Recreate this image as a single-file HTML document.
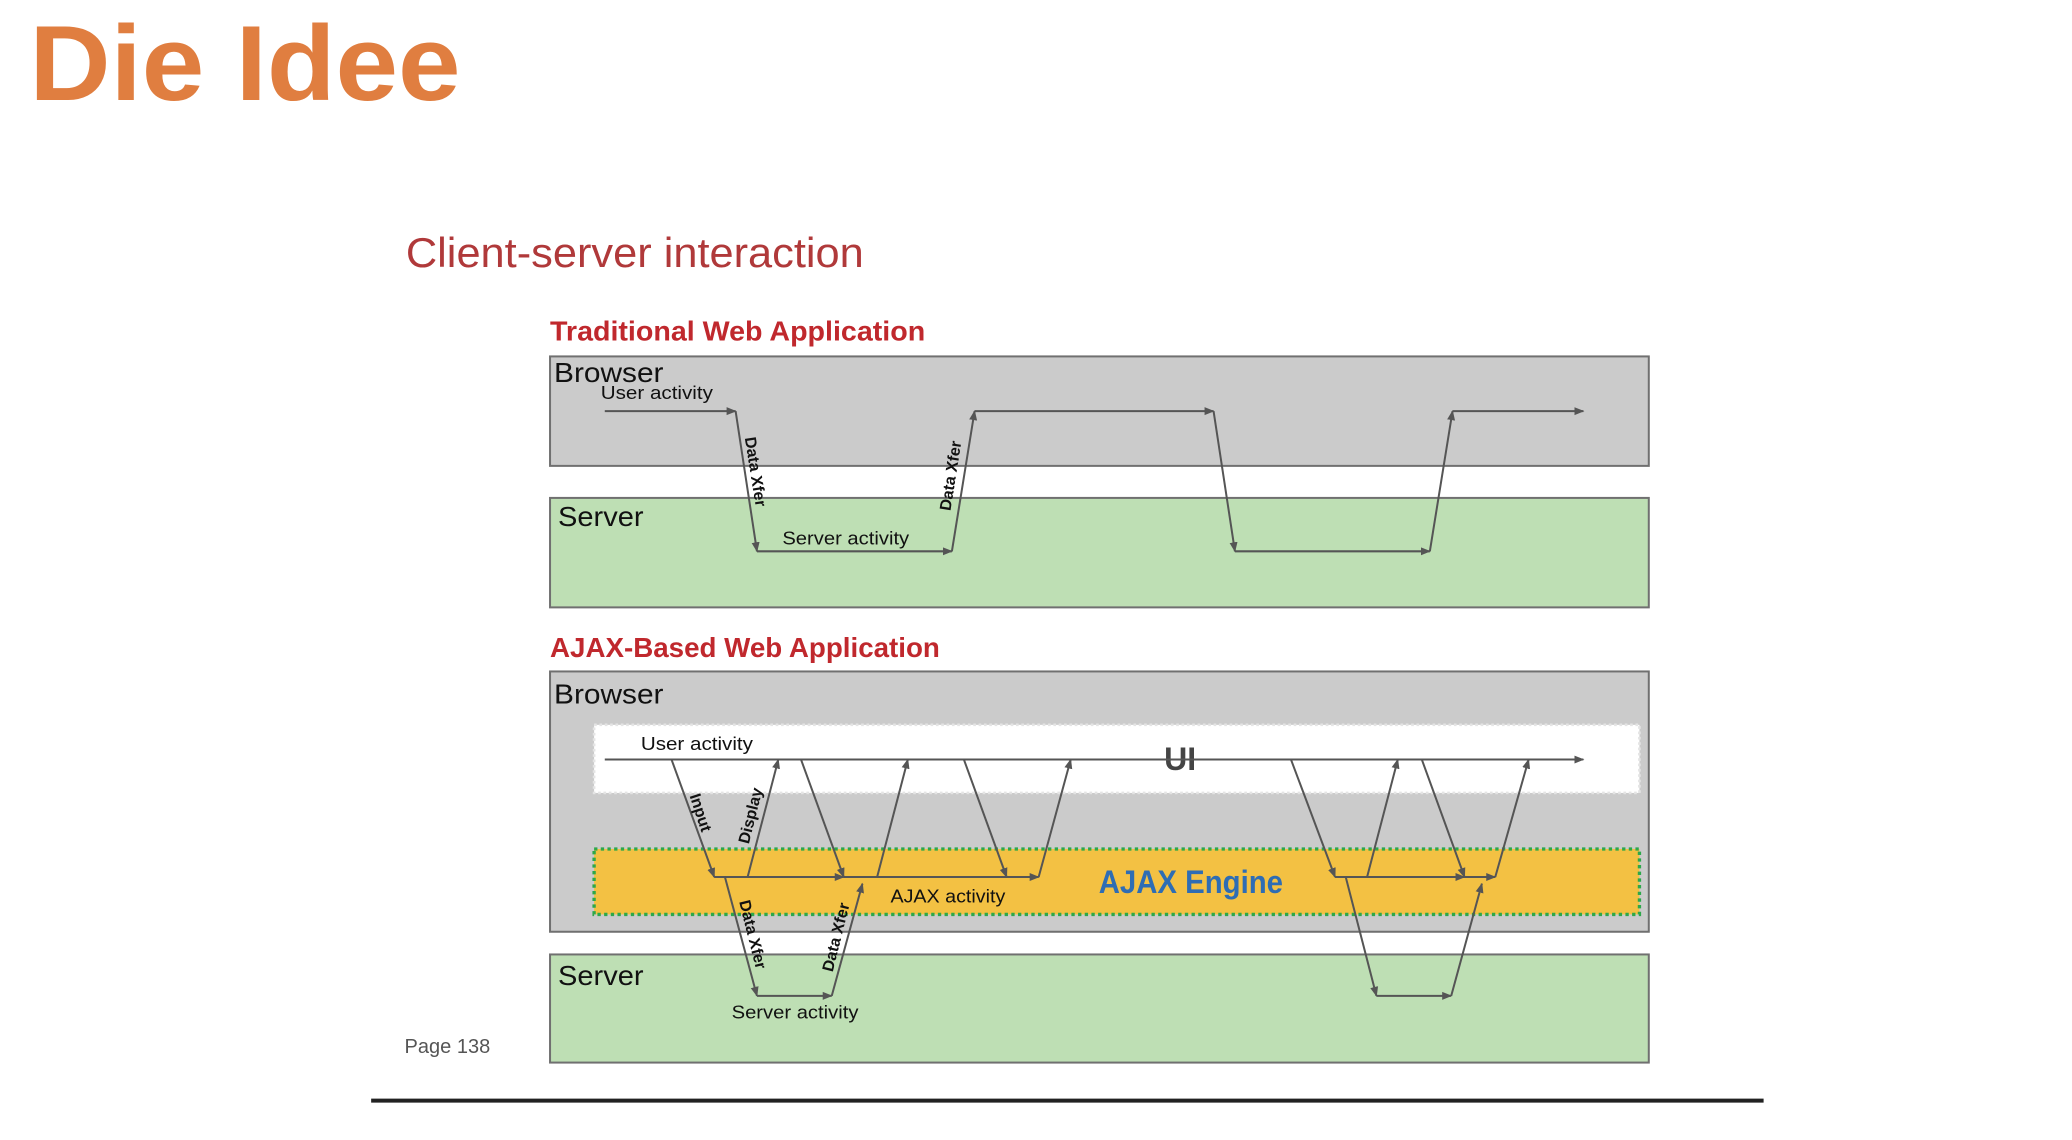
<!DOCTYPE html>
<html><head><meta charset="utf-8"><style>
html,body{margin:0;padding:0;background:#fff;width:2072px;height:1140px;overflow:hidden}
svg{display:block}
text{font-family:"Liberation Sans",sans-serif}
</style></head><body>
<svg width="2072" height="1140" viewBox="0 0 1552 854" preserveAspectRatio="none" xmlns="http://www.w3.org/2000/svg">
<defs>
<marker id="a" viewBox="0 0 10 10" refX="9" refY="5" markerWidth="5" markerHeight="5" orient="auto-start-reverse"><path d="M0,1 L10,5 L0,9 z" fill="#555"/></marker>
</defs>
<rect width="1552" height="854" fill="#fff"/>
<text x="22" y="75" font-size="80" font-weight="bold" fill="#E07E40" textLength="323" lengthAdjust="spacingAndGlyphs">Die Idee</text>
<text x="304" y="200" font-size="31" fill="#B0393A" textLength="343" lengthAdjust="spacingAndGlyphs">Client-server interaction</text>
<text x="412" y="255" font-size="21" font-weight="bold" fill="#C0282D" textLength="281" lengthAdjust="spacingAndGlyphs">Traditional Web Application</text>

<rect x="412" y="267" width="823" height="82" fill="#CBCBCB" stroke="#707070" stroke-width="1.5"/>
<rect x="412" y="373" width="823" height="82" fill="#BEDFB4" stroke="#707070" stroke-width="1.5"/>
<text x="415" y="286" font-size="21" fill="#111" textLength="82" lengthAdjust="spacingAndGlyphs">Browser</text>
<text x="450" y="299" font-size="14" fill="#111" textLength="84" lengthAdjust="spacingAndGlyphs">User activity</text>
<text x="418" y="394" font-size="21" fill="#111" textLength="64" lengthAdjust="spacingAndGlyphs">Server</text>
<text x="586" y="408" font-size="14" fill="#111" textLength="95" lengthAdjust="spacingAndGlyphs">Server activity</text>
<g stroke="#555" stroke-width="1.5" fill="none" marker-end="url(#a)">
<line x1="453" y1="308" x2="551" y2="308"/>
<line x1="551" y1="308" x2="567" y2="413"/>
<line x1="567" y1="413" x2="713" y2="413"/>
<line x1="713" y1="413" x2="730" y2="308"/>
<line x1="730" y1="308" x2="909" y2="308"/>
<line x1="909" y1="308" x2="925" y2="413"/>
<line x1="925" y1="413" x2="1071" y2="413"/>
<line x1="1071" y1="413" x2="1088" y2="308"/>
<line x1="1088" y1="308" x2="1186" y2="308"/>
</g>
<text transform="translate(562,354) rotate(81)" font-size="12" font-weight="bold" text-anchor="middle" fill="#111">Data Xfer</text>
<text transform="translate(716,357) rotate(-81)" font-size="12" font-weight="bold" text-anchor="middle" fill="#111">Data Xfer</text>

<text x="412" y="492" font-size="21" font-weight="bold" fill="#C0282D" textLength="292" lengthAdjust="spacingAndGlyphs">AJAX-Based Web Application</text>
<rect x="412" y="503" width="823" height="195" fill="#CBCBCB" stroke="#707070" stroke-width="1.5"/>
<rect x="412" y="715" width="823" height="81" fill="#BEDFB4" stroke="#707070" stroke-width="1.5"/>
<rect x="445" y="543" width="783" height="51" fill="#fff" stroke="#e4e4e4" stroke-width="2" stroke-dasharray="2,2"/>
<rect x="445" y="636" width="783" height="49" fill="#F3C143" stroke="#2DA84A" stroke-width="2.5" stroke-dasharray="2.5,2.5"/>
<text x="415" y="527" font-size="21" fill="#111" textLength="82" lengthAdjust="spacingAndGlyphs">Browser</text>
<text x="480" y="562" font-size="14" fill="#111" textLength="84" lengthAdjust="spacingAndGlyphs">User activity</text>
<text x="872" y="577" font-size="24" font-weight="bold" fill="#444">UI</text>
<text x="823" y="669" font-size="24" font-weight="bold" fill="#2E6DB4" textLength="138" lengthAdjust="spacingAndGlyphs">AJAX Engine</text>
<text x="667" y="676" font-size="14" fill="#111" textLength="86" lengthAdjust="spacingAndGlyphs">AJAX activity</text>
<text x="418" y="738" font-size="21" fill="#111" textLength="64" lengthAdjust="spacingAndGlyphs">Server</text>
<text x="548" y="763" font-size="14" fill="#111" textLength="95" lengthAdjust="spacingAndGlyphs">Server activity</text>
<g stroke="#555" stroke-width="1.5" fill="none" marker-end="url(#a)">
<line x1="453" y1="569" x2="1186" y2="569"/>
<line x1="503" y1="569" x2="535" y2="657"/>
<line x1="535" y1="657" x2="632" y2="657"/>
<line x1="632" y1="657" x2="778" y2="657"/>
<line x1="560" y1="657" x2="583" y2="569"/>
<line x1="600" y1="569" x2="632" y2="657"/>
<line x1="657" y1="657" x2="680" y2="569"/>
<line x1="722" y1="569" x2="754" y2="657"/>
<line x1="778" y1="657" x2="802" y2="569"/>
<line x1="967" y1="569" x2="1000" y2="657"/>
<line x1="1000" y1="657" x2="1097" y2="657"/>
<line x1="1097" y1="657" x2="1120" y2="657"/>
<line x1="1024" y1="657" x2="1047" y2="569"/>
<line x1="1065" y1="569" x2="1097" y2="657"/>
<line x1="1120" y1="657" x2="1145" y2="569"/>
<line x1="543" y1="657" x2="567" y2="746"/>
<line x1="567" y1="746" x2="623" y2="746"/>
<line x1="623" y1="746" x2="646" y2="662"/>
<line x1="1008" y1="657" x2="1031" y2="746"/>
<line x1="1031" y1="746" x2="1087" y2="746"/>
<line x1="1087" y1="746" x2="1110" y2="662"/>
</g>
<text transform="translate(521,610) rotate(72)" font-size="12" font-weight="bold" text-anchor="middle" fill="#111">Input</text>
<text transform="translate(566,612) rotate(-76)" font-size="12" font-weight="bold" text-anchor="middle" fill="#111">Display</text>
<text transform="translate(560,701) rotate(76)" font-size="12" font-weight="bold" text-anchor="middle" fill="#111">Data Xfer</text>
<text transform="translate(630,703) rotate(-76)" font-size="12" font-weight="bold" text-anchor="middle" fill="#111">Data Xfer</text>

<text x="303" y="789" font-size="15" fill="#555">Page 138</text>
<rect x="278" y="823" width="1043" height="3" fill="#222"/>
</svg>
</body></html>
